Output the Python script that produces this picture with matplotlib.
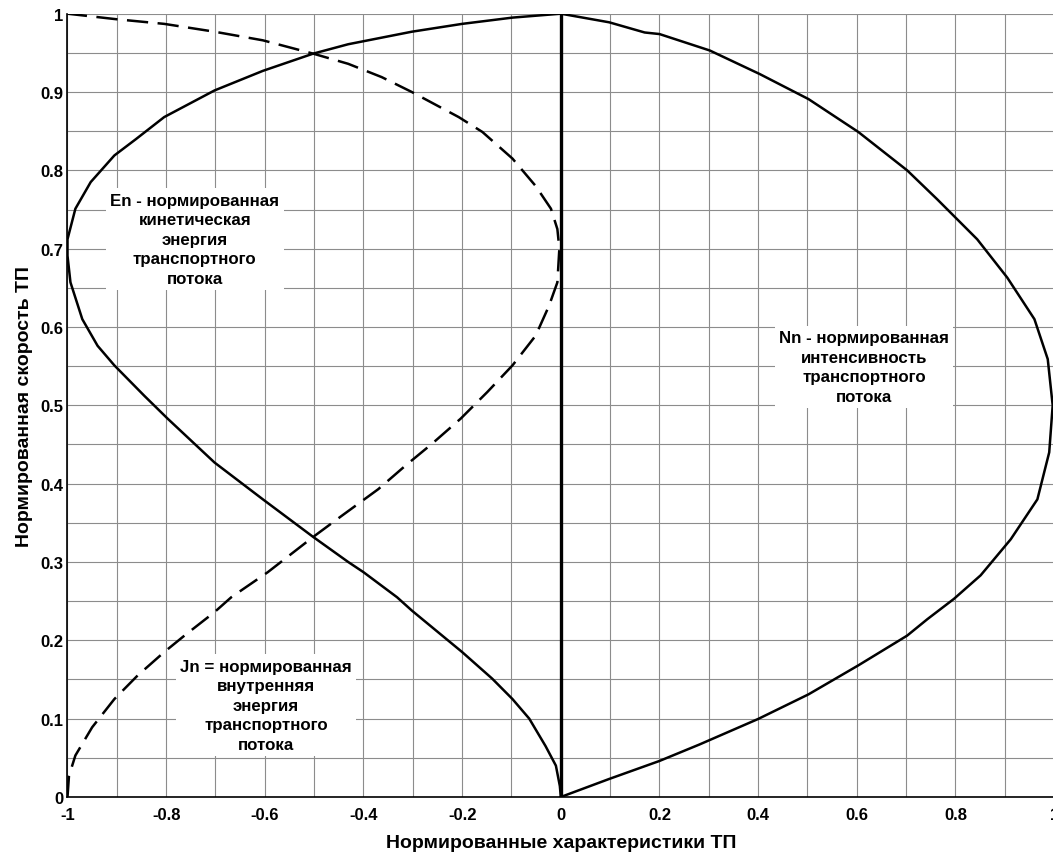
import matplotlib
matplotlib.use('Agg')
import matplotlib.pyplot as plt
from matplotlib import ticker

# normalised traffic-flow characteristics vs normalised speed
nn_x = [0, 0.098, 0.200, 0.281, 0.400, 0.502, 0.603, 0.702, 0.743, 0.797, 0.851, 0.912, 0.966,
        0.990, 0.997, 0.987, 0.960, 0.905, 0.844, 0.763, 0.702, 0.603, 0.502, 0.403, 0.302,
        0.200, 0.170, 0.098, 0]
nn_y = [0, 0.023, 0.046, 0.067, 0.0996, 0.131, 0.168, 0.206, 0.227, 0.253, 0.283, 0.329, 0.380,
        0.440, 0.500, 0.559, 0.610, 0.663, 0.712, 0.763, 0.800, 0.849, 0.891, 0.923, 0.953,
        0.974, 0.976, 0.989, 1.0]

en_x = [0, -0.002, -0.010, -0.031, -0.064, -0.098, -0.139, -0.200, -0.302, -0.332, -0.400, -0.431,
        -0.502, -0.604, -0.702, -0.797, -0.844, -0.905, -0.939, -0.970, -0.994, -1.0, -1.0,
        -0.984, -0.953, -0.905, -0.861, -0.804, -0.702, -0.604, -0.502, -0.431, -0.302, -0.200,
        -0.098, 0]
en_y = [0, 0.014, 0.040, 0.065, 0.100, 0.125, 0.151, 0.185, 0.238, 0.255, 0.287, 0.300,
        0.332, 0.380, 0.427, 0.483, 0.512, 0.551, 0.576, 0.610, 0.657, 0.691, 0.712,
        0.751, 0.785, 0.819, 0.840, 0.868, 0.902, 0.927, 0.949, 0.961, 0.977, 0.987,
        0.995, 1.0]

jn_x = [-1.0, -0.997, -0.984, -0.950, -0.905, -0.858, -0.804, -0.763, -0.702, -0.668, -0.594,
        -0.502, -0.444, -0.370, -0.315, -0.261, -0.203, -0.149, -0.098, -0.051, -0.024, -0.007,
        -0.003, -0.007, -0.020, -0.051, -0.098, -0.159, -0.207, -0.302, -0.363, -0.431, -0.502,
        -0.604, -0.702, -0.804, -0.902, -1.0]
jn_y = [0, 0.027, 0.053, 0.089, 0.125, 0.155, 0.185, 0.206, 0.236, 0.255, 0.287,
        0.332, 0.359, 0.393, 0.423, 0.451, 0.483, 0.517, 0.551, 0.589, 0.627, 0.657,
        0.700, 0.725, 0.751, 0.780, 0.815, 0.849, 0.868, 0.900, 0.919, 0.936, 0.949,
        0.966, 0.977, 0.987, 0.993, 1.0]

x_ticks = [-1, -0.8, -0.6, -0.4, -0.2, 0, 0.2, 0.4, 0.6, 0.8, 1]
y_ticks = [0, 0.1, 0.2, 0.3, 0.4, 0.5, 0.6, 0.7, 0.8, 0.9, 1]

en_label = 'En - нормированная\nкинетическая\nэнергия\nтранспортного\nпотока'
nn_label = 'Nn - нормированная\nинтенсивность\nтранспортного\nпотока'
jn_label = 'Jn = нормированная\nвнутренняя\nэнергия\nтранспортного\nпотока'

plt.rcParams['font.family'] = ['Liberation Sans', 'DejaVu Sans']
plt.rcParams['font.weight'] = 'bold'
plt.rcParams['axes.unicode_minus'] = False

fig = plt.figure(figsize=(10.53, 8.54), dpi=100)
ax = fig.add_axes([0.0641, 0.0656, 0.9370, 0.9172])

ax.plot(nn_x, nn_y, color='k', lw=1.8, zorder=3)
ax.plot(en_x, en_y, color='k', lw=1.8, zorder=3)
ax.plot(jn_x, jn_y, color='k', lw=1.8, dashes=(8.5, 3.8), zorder=3)
ax.axvline(0, color='k', lw=2.4, zorder=3)

ax.set_xlim(-1, 1)
ax.set_ylim(0, 1)
ax.set_xticks(x_ticks)
ax.set_yticks(y_ticks)
ax.xaxis.set_minor_locator(ticker.MultipleLocator(0.1))
ax.yaxis.set_minor_locator(ticker.MultipleLocator(0.05))
ax.xaxis.set_major_formatter(ticker.FuncFormatter(lambda v, p: f'{v:g}'))
ax.yaxis.set_major_formatter(ticker.FuncFormatter(lambda v, p: f'{v:g}'))
ax.grid(which='both', color='#8c8c8c', lw=0.8, zorder=0)
ax.set_axisbelow(True)
ax.tick_params(which='both', length=0, labelsize=12)
ax.tick_params(axis='x', pad=7)
ax.tick_params(axis='y', pad=3)

for side in ('top', 'right'):
    ax.spines[side].set_visible(False)
for side in ('left', 'bottom'):
    ax.spines[side].set_linewidth(1.2)

ax.set_xlabel('Нормированные характеристики ТП', fontsize=14, fontweight='bold', labelpad=9)
ax.set_ylabel('Нормированная скорость ТП', fontsize=14, fontweight='bold', labelpad=5)

box = dict(facecolor='white', edgecolor='none', pad=3)
ax.text(-0.742, 0.712, en_label, ha='center', va='center', multialignment='center',
        fontsize=12.2, fontweight='bold', linespacing=1.38, bbox=box, zorder=4)
ax.text(0.615, 0.549, nn_label, ha='center', va='center', multialignment='center',
        fontsize=12.2, fontweight='bold', linespacing=1.38, bbox=box, zorder=4)
ax.text(-0.598, 0.117, jn_label, ha='center', va='center', multialignment='center',
        fontsize=12.2, fontweight='bold', linespacing=1.38, bbox=box, zorder=4)

fig.savefig('out.png', dpi=100)
plt.close()
